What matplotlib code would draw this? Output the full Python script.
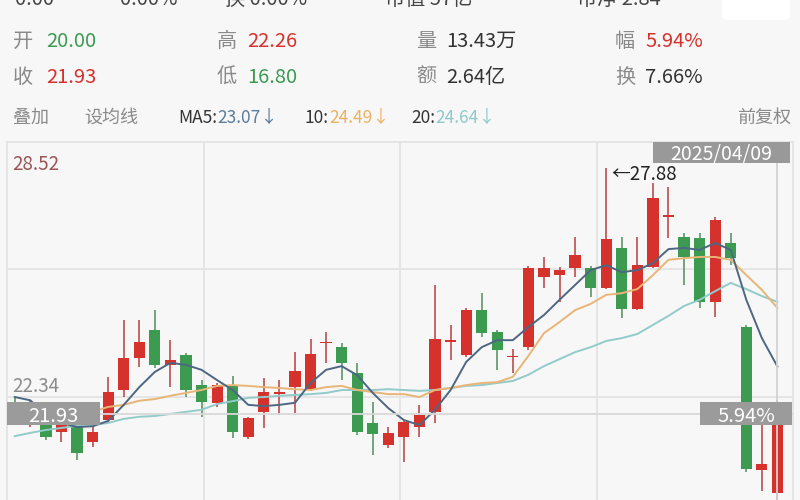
import matplotlib
matplotlib.use("Agg")
import matplotlib.pyplot as plt
from matplotlib.patches import Rectangle, FancyBboxPatch
import numpy as np

plt.rcParams['font.family'] = ['Noto Sans CJK SC', 'DejaVu Sans']

# ---------------- data ----------------
selected_date = "2025/04/09"
opens = [21.95, 21.80, 21.65, 21.48, 21.65, 21.24, 21.77, 22.50, 23.28, 23.96,
         23.11, 23.35, 22.62, 22.19, 22.62, 21.36, 21.97, 22.40, 22.57, 22.50,
         23.63, 23.54, 22.91, 21.70, 21.17, 21.36, 21.60, 21.97, 23.66, 23.35,
         24.44, 23.91, 23.29, 23.54, 25.24, 25.29, 25.46, 25.46, 24.98, 25.95,
         24.47, 25.49, 26.70, 26.21, 26.19, 24.64, 26.07, 24.03, 20.55, 20.00]
highs = [22.30, 22.25, 21.70, 21.70, 21.70, 21.65, 22.82, 24.20, 24.20, 24.44,
         23.71, 23.40, 22.74, 22.67, 22.84, 21.85, 22.79, 22.74, 23.42, 23.74,
         23.91, 23.64, 23.16, 22.21, 21.60, 21.77, 22.14, 25.05, 24.08, 24.49,
         24.85, 23.96, 23.50, 25.50, 25.73, 25.49, 26.21, 25.51, 27.88, 26.21,
         26.21, 27.52, 27.43, 26.31, 26.31, 26.70, 26.31, 24.08, 21.65, 22.26]
lows = [21.78, 21.60, 21.29, 21.24, 20.80, 21.12, 21.70, 22.33, 23.06, 23.03,
        22.57, 22.33, 21.85, 22.09, 21.33, 21.30, 21.58, 21.89, 21.94, 22.48,
        23.16, 22.74, 21.41, 20.92, 21.10, 20.75, 21.36, 21.70, 23.23, 23.30,
        23.79, 22.99, 22.91, 23.47, 24.98, 24.64, 25.24, 24.76, 24.96, 24.25,
        24.45, 25.45, 26.19, 25.05, 24.49, 24.27, 25.53, 20.50, 20.05, 16.80]
closes = [21.88, 22.00, 21.36, 21.65, 20.97, 21.48, 22.45, 23.28, 23.67, 23.11,
          23.23, 22.50, 22.21, 22.62, 21.48, 21.82, 22.45, 22.45, 22.96, 23.37,
          23.66, 23.16, 21.48, 21.43, 21.46, 21.72, 21.89, 23.74, 23.68, 24.44,
          23.88, 23.47, 23.31, 25.46, 25.46, 25.41, 25.78, 24.98, 26.17, 24.47,
          25.53, 27.16, 26.73, 25.73, 24.64, 26.63, 25.70, 20.58, 20.70, 21.93]

ma5 = [22.33, 22.25, 21.90, 21.70, 21.60, 21.62, 21.75, 22.14, 22.57, 22.94,
       23.16, 23.11, 22.99, 22.74, 22.50, 22.14, 22.11, 22.14, 22.19, 22.67,
       22.99, 23.08, 22.86, 22.43, 22.06, 21.77, 21.65, 22.02, 22.50, 23.18,
       23.54, 23.71, 23.71, 24.03, 24.32, 24.69, 25.05, 25.41, 25.53, 25.36,
       25.41, 25.58, 25.92, 25.95, 25.90, 26.07, 25.90, 24.69, 23.76, 23.07]
ma10 = [21.93, 21.93, 21.92, 21.92, 21.93, 21.97, 22.09, 22.14, 22.24, 22.28,
        22.36, 22.43, 22.50, 22.60, 22.62, 22.60, 22.57, 22.55, 22.52, 22.50,
        22.57, 22.60, 22.50, 22.45, 22.40, 22.40, 22.33, 22.50, 22.55, 22.62,
        22.67, 22.69, 22.82, 23.33, 23.88, 24.15, 24.44, 24.59, 24.81, 24.85,
        24.95, 25.29, 25.66, 25.70, 25.73, 25.73, 25.66, 25.29, 24.93, 24.49]
ma20 = [21.38, 21.46, 21.53, 21.58, 21.63, 21.65, 21.70, 21.80, 21.85, 21.87,
        21.92, 21.97, 22.02, 22.16, 22.23, 22.31, 22.33, 22.36, 22.38, 22.40,
        22.43, 22.50, 22.50, 22.50, 22.52, 22.50, 22.48, 22.50, 22.55, 22.60,
        22.62, 22.67, 22.72, 22.87, 23.08, 23.25, 23.42, 23.54, 23.69, 23.76,
        23.86, 24.08, 24.30, 24.54, 24.69, 24.90, 25.10, 24.95, 24.78, 24.64]

y_max, y_mid, y_min = 28.52, 22.34, 16.16
grid_levels = [16.16, 19.25, 22.34, 25.43, 28.52]
max_label = "28.52"
mid_label = "22.34"
close_label = "21.93"
change_label = "5.94%"
peak_label = "27.88"

row1 = [("开", "20.00"), ("高", "22.26"), ("量", "13.43万"), ("幅", "5.94%")]
row2 = [("收", "21.93"), ("低", "16.80"), ("额", "2.64亿"), ("换", "7.66%")]
ma_labels = [("MA5:", "23.07↓"), ("10:", "24.49↓"), ("20:", "24.64↓")]
top_cut = ["0.00", "0.00%", "换 0.00%", "市值 57亿", "市净 2.84"]

# ---------------- style ----------------
BG = '#f7f7f7'
RED = '#d6322d'
GREEN = '#3d9a51'
RED_W = '#b54040'
GREEN_W = '#4f8d5d'
C_MA5 = '#4d6782'
C_MA10 = '#e9b577'
C_MA20 = '#92cbca'
GRID = '#e4e4e4'
GRAY_TXT = '#8a8a8a'
DARK = '#333333'

W, H = 800, 500
fig = plt.figure(figsize=(8, 5), dpi=100)
fig.patch.set_facecolor(BG)
renderer = fig.canvas.get_renderer()

def ftext(px, py, s, color, size, ha='left', weight='normal'):
    return fig.text(px / W, 1 - py / H, s, color=color, fontsize=size, ha=ha,
                    va='baseline', fontweight=weight)

# cut-off top strip (only the lower part of this line shows in the screenshot)
top_x = [15, 120, 225, 385, 577]
for px, s in zip(top_x, top_cut):
    ftext(px, 5, s, '#444444', 14.5)
fig.patches.append(FancyBboxPatch((722 / W, 1 - 20 / H), 68 / W, 30 / H,
                                  boxstyle="round,pad=0,rounding_size=0.01",
                                  transform=fig.transFigure, facecolor='white',
                                  edgecolor='none', figure=fig))

# header rows
cols_lab = [13, 217, 416, 615]
cols_val = [46, 247, 446, 645]
val_colors1 = [GREEN, RED, DARK, RED]
val_colors2 = [RED, GREEN, DARK, DARK]
for (lab, val), lx, vx, c in zip(row1, cols_lab, cols_val, val_colors1):
    ftext(lx, 47, lab, GRAY_TXT, 14.5)
    ftext(vx, 47, val, c, 14.5)
for (lab, val), lx, vx, c in zip(row2, cols_lab, cols_val, val_colors2):
    ftext(lx, 83, lab, GRAY_TXT, 14.5)
    ftext(vx, 83, val, c, 14.5)

ftext(13, 123, "叠加", GRAY_TXT, 13)
ftext(84, 123, "设均线", GRAY_TXT, 13)
ma_key_x = [178, 305, 411]
ma_cols = ['#5b7c9b', '#ecb264', '#8ecaca']
for (k, v), kx, c in zip(ma_labels, ma_key_x, ma_cols):
    t = ftext(kx, 123, k, DARK, 12.5)
    wpx = t.get_window_extent(renderer).width
    ftext(kx + wpx, 123, v, c, 12.5)
ftext(791, 123, "前复权", GRAY_TXT, 13, ha='right')

# ---------------- chart ----------------
top_px, bot_px = 142, 142 + (y_max - y_min) * 41.2
ax = fig.add_axes([7 / W, 1 - bot_px / H, 786 / W, (bot_px - top_px) / H])
ax.set_facecolor(BG)
n = len(closes)
x = np.arange(n)
ax.set_xlim(-0.5, 50.0)
ax.set_ylim(y_min, y_max)
ax.set_yticks(grid_levels)
ax.set_xticks([])
ax.tick_params(left=False, labelleft=False, bottom=False, labelbottom=False)
ax.grid(axis='y', color=GRID, lw=1.3, zorder=0)
for f in (0.25, 0.5, 0.75):
    ax.plot([f, f], [0, 1], transform=ax.transAxes, color=GRID, lw=1.3, zorder=0)
for side in ('left', 'top', 'right'):
    ax.spines[side].set_color(GRID)
    ax.spines[side].set_linewidth(1.3)
ax.spines['bottom'].set_visible(False)

o = np.array(opens); c = np.array(closes)
up = c >= o
body_col = np.where(up, RED, GREEN)
wick_col = np.where(up, RED_W, GREEN_W)
ax.vlines(x, lows, highs, colors=wick_col, lw=1.1, zorder=2)
ax.bar(x, np.maximum(np.abs(c - o), 0.045), bottom=np.minimum(o, c), width=0.72,
       color=body_col, linewidth=0, zorder=3)

ax.plot(x, ma20, color=C_MA20, lw=1.4, zorder=4)
ax.plot(x, ma10, color=C_MA10, lw=1.4, zorder=4)
ax.plot(x, ma5, color=C_MA5, lw=1.4, zorder=4)

# axis labels
yx = ax.get_yaxis_transform()
ax.annotate(max_label, xy=(0, y_max), xycoords=yx, xytext=(3.8, -20),
            textcoords='offset points', va='baseline', ha='left',
            fontsize=13.5, color='#9b5555', zorder=5)
ax.annotate(mid_label, xy=(0, y_mid), xycoords=yx, xytext=(3.8, 3),
            textcoords='offset points', va='baseline', ha='left',
            fontsize=13.5, color='#8c8c8c', zorder=5)

# peak marker
imax = int(np.argmax(highs))
ax.annotate("←" + peak_label, xy=(x[imax], highs[imax]), xytext=(3.5, -8.5),
            textcoords='offset points', va='baseline', ha='left',
            fontsize=13.5, color='#222222', zorder=6)

# crosshair on the last candle
last = n - 1
ax.axhline(closes[last], color='#d9d9d9', lw=1.3, zorder=5)
ax.axvline(x[last], color='#d2d2d2', lw=1.3, zorder=5)

box_h = 0.56
BOX = '#9b9b9b'
ax.add_patch(Rectangle((0, closes[last] - box_h / 2), 93 / 786, box_h,
                       transform=yx, facecolor=BOX, edgecolor='none',
                       zorder=7, clip_on=False))
ax.text(46.5 / 786, closes[last], close_label, transform=yx, ha='center',
        va='center_baseline', color='white', fontsize=14.5, zorder=8)
ax.add_patch(Rectangle((693 / 786, closes[last] - box_h / 2), 92 / 786, box_h,
                       transform=yx, facecolor=BOX, edgecolor='none',
                       zorder=7, clip_on=False))
ax.text(739 / 786, closes[last], change_label, transform=yx, ha='center',
        va='center_baseline', color='white', fontsize=14.5, zorder=8)

hb = 21 / (bot_px - top_px)
ax.add_patch(Rectangle((646 / 786, 1 - hb), 137 / 786, hb, transform=ax.transAxes,
                       facecolor='#999999', edgecolor='none', zorder=7,
                       clip_on=False))
ax.text(714.5 / 786, 1 - hb / 2, selected_date, transform=ax.transAxes,
        ha='center', va='center_baseline', color='white', fontsize=14, zorder=8)

fig.savefig("out.png", dpi=100, facecolor=BG)
